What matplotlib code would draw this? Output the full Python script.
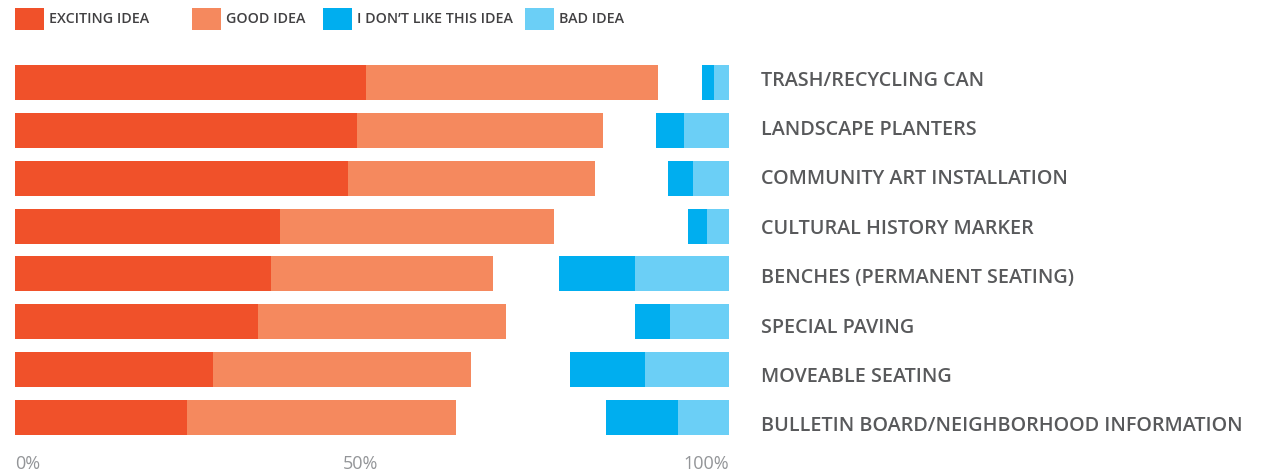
import matplotlib
matplotlib.use('Agg')
import matplotlib.pyplot as plt
from matplotlib.patches import Rectangle
import matplotlib.transforms as mtransforms

categories = [
    "TRASH/RECYCLING CAN",
    "LANDSCAPE PLANTERS",
    "COMMUNITY ART INSTALLATION",
    "CULTURAL HISTORY MARKER",
    "BENCHES (PERMANENT SEATING)",
    "SPECIAL PAVING",
    "MOVEABLE SEATING",
    "BULLETIN BOARD/NEIGHBORHOOD INFORMATION",
]
exciting = [49.2, 47.9, 46.6, 37.1, 35.9, 34.0, 27.7, 24.1]
good = [40.9, 34.5, 34.6, 38.4, 31.1, 34.7, 36.1, 37.7]
dislike = [1.7, 3.9, 3.5, 2.7, 10.6, 4.9, 10.5, 10.1]
bad = [2.1, 6.3, 5.0, 3.1, 13.2, 8.3, 11.8, 7.1]
series_names = ["EXCITING IDEA", "GOOD IDEA", "I DON\u2019T LIKE THIS IDEA", "BAD IDEA"]
tick_values = [0, 50, 100]
tick_labels = ["0%", "50%", "100%"]

colors = ["#F0512A", "#F5895E", "#00AEEF", "#6BCFF6"]
FONT = "Open Sans"
W, H = 1262, 476

fig = plt.figure(figsize=(W / 100, H / 100), dpi=100)
ax = fig.add_axes([15 / W, (H - 441.4) / H, 714 / W, 382.8 / H])

y = list(range(len(categories)))
bh = 0.73
ax.barh(y, exciting, height=bh, color=colors[0], linewidth=0)
ax.barh(y, good, left=exciting, height=bh, color=colors[1], linewidth=0)
dis_left = [100 - b - d for b, d in zip(bad, dislike)]
bad_left = [100 - b for b in bad]
ax.barh(y, dislike, left=dis_left, height=bh, color=colors[2], linewidth=0)
ax.barh(y, bad, left=bad_left, height=bh, color=colors[3], linewidth=0)

ax.set_xlim(0, 100)
ax.set_ylim(len(categories) - 0.5, -0.5)
for s in ax.spines.values():
    s.set_visible(False)

ax.yaxis.tick_right()
ax.set_yticks(y)
ax.set_yticklabels(categories, fontsize=14.2, color="#58595B", family=FONT, weight="semibold")
ax.tick_params(axis="y", length=0, pad=23)
# labels in the reference are spaced slightly wider than the bars
for i, t in enumerate(ax.get_yticklabels()):
    dy = 4.5 - 1.57 * i
    t.set_transform(t.get_transform() + mtransforms.ScaledTranslation(0, dy / 100, fig.dpi_scale_trans))

ax.set_xticks(tick_values)
ax.set_xticklabels(tick_labels, fontsize=13, color="#939598", family=FONT)
ax.tick_params(axis="x", length=0, pad=10)
xl = ax.get_xticklabels()
xl[0].set_ha("left")
xl[2].set_ha("right")
xl[1].set_transform(xl[1].get_transform() + mtransforms.ScaledTranslation(-12 / 100, 0, fig.dpi_scale_trans))

# legend
leg = [(15, 49), (192, 226), (323, 357), (525, 559)]
for (sx, tx), c, name in zip(leg, colors, series_names):
    fig.add_artist(Rectangle((sx / W, 1 - 30 / H), 29 / W, 22 / H,
                             transform=fig.transFigure, color=c, linewidth=0))
    fig.text(tx / W, 1 - 19 / H, name, fontsize=10.3, color="#414042",
             family=FONT, weight="semibold", va="center", ha="left")

fig.savefig("out.png", dpi=100, facecolor="white")
